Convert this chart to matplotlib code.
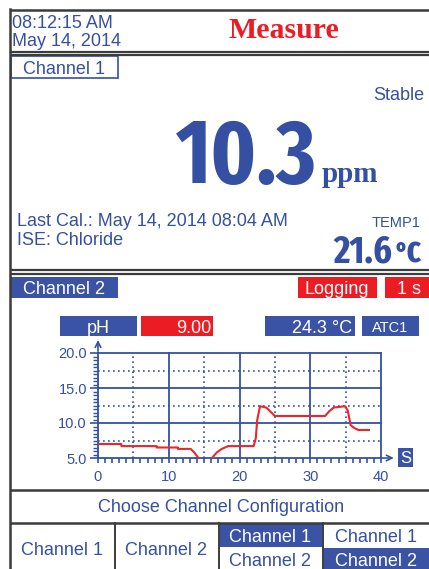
import os
import matplotlib
matplotlib.use('Agg')
import matplotlib.pyplot as plt
from matplotlib.patches import Rectangle
from matplotlib import font_manager
from matplotlib.font_manager import FontProperties

# logged pH trace on channel 2
t_sec = [0, 3.3, 3.3, 8.3, 8.3, 11.3, 11.3, 13.1, 13.6, 14.2, 14.6, 15.5, 16.1, 16.8,
         17.5, 18.4, 22.0, 22.3, 22.5, 22.9, 23.8, 25.0, 32.1, 32.7, 33.3, 34.9, 35.3,
         35.7, 36.2, 36.8, 38.3]
ph_val = [7.0, 7.0, 6.7, 6.7, 6.5, 6.5, 6.3, 6.3, 5.8, 5.0, 4.5, 4.5, 5.0, 5.8,
          6.3, 6.7, 6.7, 7.8, 10.4, 12.4, 12.2, 11.0, 11.0, 11.7, 12.2, 12.4, 11.8,
          9.7, 9.3, 9.0, 9.0]
y_ticks = [5.0, 10.0, 15.0, 20.0]
x_ticks = [0, 10, 20, 30, 40]

reading = '10.3'
unit = 'ppm'
temp1 = '21.6'
bottom_buttons = ['Channel 1', 'Channel 2']

BLUE = '#3550a2'
BOX = '#3a53a4'
RED = '#ec1c24'
LINE = '#e8262b'
GRAY = '#3c3c3c'

names = {f.name for f in font_manager.fontManager.ttflist}
SANS = 'Liberation Sans' if 'Liberation Sans' in names else 'DejaVu Sans'
SERIF = 'Liberation Serif' if 'Liberation Serif' in names else 'DejaVu Serif'


def pick_condensed(bold=True):
    # narrowest face we can find on disk, else plain sans
    files = []
    for f in font_manager.fontManager.ttflist:
        fn = os.path.basename(f.fname)
        if 'Italic' in fn or 'Oblique' in fn:
            continue
        if 'ExtraBold' in fn or 'SemiBold' in fn or 'Light' in fn or 'Medium' in fn:
            continue
        if bold != ('Bold' in fn):
            continue
        files.append(f.fname)
    for key in ['ExtraCondensed', 'Narrow', 'Condensed', 'SemiCondensed']:
        for fn in sorted(files):
            b = os.path.basename(fn)
            if key in b and not (key == 'Condensed' and ('Semi' in b or 'Extra' in b)):
                return FontProperties(fname=fn)
    return FontProperties(family=SANS, weight='bold' if bold else 'normal')


BIG = pick_condensed(True)
THIN = pick_condensed(False)

W, H = 429, 569
fig = plt.figure(figsize=(W / 100, H / 100), dpi=100)
bg = fig.add_axes([0, 0, 1, 1])
bg.set_xlim(0, W)
bg.set_ylim(H, 0)
bg.axis('off')


def box(x0, y0, x1, y1, fc, ec=None, lw=0):
    bg.add_patch(Rectangle((x0, y0), x1 - x0, y1 - y0, facecolor=fc,
                           edgecolor=ec if ec else fc, linewidth=lw))


def label(x, y, s, size=13, color=BLUE, ha='left', family=SANS, **kw):
    return bg.text(x, y, s, fontsize=size, color=color, ha=ha, va='baseline',
                   family=family, **kw)


def fit_label(x, y, s, width_px, max_pt, ha='left', fp=BIG):
    t = bg.text(x, y, s, color=BLUE, ha=ha, va='baseline', fontproperties=fp.copy())
    t.set_fontsize(40)
    r = fig.canvas.get_renderer()
    w = t.get_window_extent(r).width
    t.set_fontsize(min(max_pt, 40 * width_px / w))
    return t


def hline(y, x0=10, x1=W, lw=1.6):
    bg.plot([x0, x1], [y, y], color=GRAY, lw=lw, solid_capstyle='butt')


# frame
bg.plot([10, 10], [9, H], color=GRAY, lw=1.8)
hline(9.5, lw=1.8)
hline(51.5)
hline(54.5)
hline(270)
hline(273.5)
hline(490, lw=1.8)
hline(523, lw=1.8)
for xv in [114.5, 218.5, 322.5]:
    bg.plot([xv, xv], [523, H], color=GRAY, lw=1.4)

# header
label(12, 28, '08:12:15 AM')
label(12, 46, 'May 14, 2014')
label(284, 38, 'Measure', size=21.5, color=RED, ha='center', family=SERIF,
      fontweight='bold')

# channel 1
box(11, 56, 118, 78, 'white', BLUE, 1.2)
label(64, 74, 'Channel 1', ha='center')
label(424, 100, 'Stable', ha='right')
fit_label(176, 183, reading, 141, 84)
label(322, 182, unit, size=21, family=SERIF, fontweight='bold')
label(17, 226, 'Last Cal.: May 14, 2014 08:04 AM')
label(17, 245, 'ISE: Chloride')
label(421, 227, 'TEMP1', size=10.5, ha='right')
fit_label(392, 262, temp1, 59, 30, ha='right')
fit_label(395, 262, '°C', 26, 24, fp=THIN)

# channel 2 header row
box(11, 277, 118, 298, BOX)
label(64, 294, 'Channel 2', color='white', ha='center')
box(298, 277, 377, 298, RED)
label(337, 294, 'Logging', color='white', ha='center')
box(385, 277, 432, 298, RED)
label(409, 294, '1 s', color='white', ha='center')

box(60, 316, 137, 336, BOX)
label(98, 333, 'pH', color='white', ha='center')
box(141, 316, 213, 336, RED)
label(211, 333, '9.00', color='white', ha='right')
box(265, 316, 355, 336, BOX)
label(352, 333, '24.3 °C', color='white', ha='right')
box(362, 316, 419, 336, BOX)
label(390, 332, 'ATC1', size=10.5, color='white', ha='center')

# S unit box for the time axis
box(398, 448, 413, 467, BOX)
label(405.5, 463, 'S', size=12, color='white', ha='center')

# bottom menu
label(221, 512, 'Choose Channel Configuration', ha='center')
label(62, 555, bottom_buttons[0], ha='center')
label(166, 555, bottom_buttons[1], ha='center')
box(219.5, 524, 322, 546.5, BOX)
label(270, 542, 'Channel 1', color='white', ha='center')
label(270, 566, 'Channel 2', ha='center')
label(376, 542, 'Channel 1', ha='center')
box(323.5, 548, 432, H, BOX)
label(376, 566, 'Channel 2', color='white', ha='center')

# chart
ax = fig.add_axes([98 / W, (H - 458) / H, (381 - 98) / W, (458 - 353) / H])
ax.set_facecolor('none')
ax.plot(t_sec, ph_val, color=LINE, lw=1.5, zorder=5)
ax.set_xlim(0, 40)
ax.set_ylim(5, 20)

for yv in [10, 15, 20]:
    ax.axhline(yv, color=BLUE, lw=1.3, zorder=2, clip_on=False)
for xv in [10, 20, 30, 40]:
    ax.axvline(xv, color=BLUE, lw=1.3, zorder=2, clip_on=False)
for yv in [7.5, 12.5, 17.5]:
    ax.axhline(yv, color=BLUE, lw=1.2, ls=(0, (1, 2)), zorder=1)
for xv in [5, 15, 25, 35]:
    ax.axvline(xv, color=BLUE, lw=1.2, ls=(0, (1, 2)), zorder=1)

for side in ['top', 'right']:
    ax.spines[side].set_visible(False)
for side in ['left', 'bottom']:
    ax.spines[side].set_color(BLUE)
    ax.spines[side].set_linewidth(1.3)

ax.set_yticks(y_ticks)
ax.set_yticklabels(['%.1f' % v for v in y_ticks])
ax.set_xticks(x_ticks)
ax.set_xticklabels([str(v) for v in x_ticks])
ax.set_yticks([5 + 0.5 * i for i in range(31)], minor=True)
ax.set_xticks(list(range(41)), minor=True)
ax.tick_params(axis='y', which='major', length=6, width=1.2, color=BLUE,
               labelcolor=BLUE, labelsize=10.5, pad=2)
ax.tick_params(axis='y', which='minor', length=3.5, width=1.0, color=BLUE)
ax.tick_params(axis='x', which='both', length=3.5, width=1.2, color=BLUE,
               labelcolor=BLUE, labelsize=10.5, pad=5)
for lab in ax.get_xticklabels() + ax.get_yticklabels():
    lab.set_family(SANS)

ax.annotate('', xy=(0, 1.15), xytext=(0, 0.99), xycoords='axes fraction',
            arrowprops=dict(arrowstyle='->', color=BLUE, lw=1.2),
            annotation_clip=False)
ax.annotate('', xy=(1.055, 0), xytext=(0.99, 0), xycoords='axes fraction',
            arrowprops=dict(arrowstyle='->', color=BLUE, lw=1.2),
            annotation_clip=False)

fig.savefig('out.png', dpi=100)
